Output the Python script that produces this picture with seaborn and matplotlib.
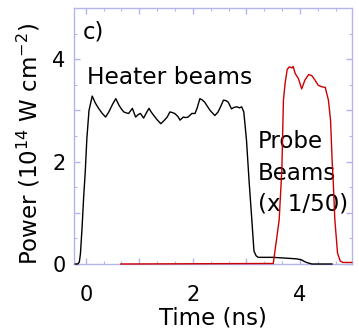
import numpy as np
import pandas as pd
import matplotlib
matplotlib.use("Agg")
import matplotlib.pyplot as plt
import seaborn as sns
from matplotlib.ticker import FixedLocator, FixedFormatter

# ---- data ----
heater_t = [-0.2, -0.15, -0.12, -0.10, -0.07, -0.04, -0.01, 0.02, 0.06, 0.12, 0.18, 0.24,
            0.30, 0.37, 0.43, 0.50, 0.56, 0.62, 0.67, 0.71, 0.76, 0.80, 0.87, 0.93, 0.98,
            1.02, 1.08, 1.13, 1.18, 1.22, 1.27, 1.33, 1.40, 1.46, 1.52, 1.57, 1.61, 1.66,
            1.72, 1.76, 1.82, 1.86, 1.91, 1.98, 2.04, 2.08, 2.13, 2.18, 2.22, 2.27, 2.32,
            2.41, 2.47, 2.52, 2.57, 2.62, 2.66, 2.72, 2.77, 2.82, 2.87, 2.91, 2.95, 3.00,
            3.05, 3.10, 3.14, 3.18, 3.22, 3.35, 3.50, 3.65, 3.80, 3.94, 4.03, 4.08, 4.12,
            4.22, 4.40, 4.60]
heater_p = [0.0, 0.0, 0.04, 0.2, 0.7, 1.3, 1.8, 2.45, 3.0, 3.28, 3.14, 3.04,
            2.95, 2.87, 2.97, 3.12, 3.23, 3.10, 3.02, 2.97, 2.95, 2.94, 3.04, 2.87, 2.92,
            2.94, 2.85, 2.95, 3.04, 2.97, 2.90, 2.82, 2.74, 2.80, 2.87, 2.97, 2.96, 2.94,
            2.88, 2.81, 2.87, 2.86, 2.87, 2.94, 2.94, 3.05, 3.23, 3.20, 3.16, 3.08, 3.00,
            2.90, 2.97, 3.08, 3.20, 3.19, 3.16, 3.03, 3.06, 3.07, 3.05, 3.07, 2.97, 2.42,
            1.60, 0.86, 0.25, 0.16, 0.13, 0.13, 0.13, 0.12, 0.11, 0.10, 0.08, 0.05, 0.03,
            0.0, 0.0, 0.0]

probe_t = [0.65, 3.50, 3.56, 3.61, 3.66, 3.69, 3.72, 3.76, 3.80, 3.85, 3.87, 3.91, 3.97,
           4.03, 4.09, 4.16, 4.22, 4.28, 4.34, 4.41, 4.47, 4.53, 4.57, 4.60, 4.62, 4.65,
           4.70, 4.75, 4.80, 4.97]
probe_p = [0.0, 0.01, 0.47, 0.86, 1.83, 3.2, 3.52, 3.80, 3.85, 3.83, 3.86, 3.72, 3.62,
           3.42, 3.59, 3.70, 3.68, 3.59, 3.49, 3.46, 3.45, 3.20, 2.8, 2.0, 1.6, 0.86,
           0.21, 0.06, 0.03, 0.03]

x_major = [0, 1, 2, 3, 4]
x_labels = ["0", "", "2", "", "4"]
y_major = [0, 1, 2, 3, 4]
y_labels = ["0", "", "2", "", "4"]

heater = pd.DataFrame({"t": heater_t, "p": heater_p})
probe = pd.DataFrame({"t": probe_t, "p": probe_p})

sns.set_style("ticks")
plt.rcParams["font.family"] = ["DejaVu Sans"]
plt.rcParams["text.color"] = "black"
plt.rcParams["axes.labelcolor"] = "black"

spine_col = "#b4b4ee"

fig = plt.figure(figsize=(3.59, 3.36), dpi=100)
ax = fig.add_axes([74/359, 72/336, 278/359, 256/336])

sns.lineplot(data=heater, x="t", y="p", ax=ax, color="black", lw=1.0,
             sort=False, estimator=None, clip_on=False, zorder=3)
sns.lineplot(data=probe, x="t", y="p", ax=ax, color="#cc0000", lw=1.0,
             sort=False, estimator=None, clip_on=False, zorder=4)

ax.set_xlim(-0.22, 4.97)
ax.set_ylim(0, 5)

ax.xaxis.set_major_locator(FixedLocator(x_major))
ax.xaxis.set_major_formatter(FixedFormatter(x_labels))
ax.yaxis.set_major_locator(FixedLocator(y_major))
ax.yaxis.set_major_formatter(FixedFormatter(y_labels))
ax.set_xticks(np.arange(-0.0, 5.0, 1/3), minor=True)
ax.set_yticks(np.arange(0, 5.0, 0.5), minor=True)

for s in ax.spines.values():
    s.set_color(spine_col)
    s.set_linewidth(1.0)
    s.set_visible(True)

ax.tick_params(which="both", direction="in", top=True, right=True,
               color=spine_col, labelcolor="black")
ax.tick_params(which="major", length=4, width=1.0, labelsize=15)
ax.tick_params(which="minor", length=2, width=0.8)
ax.tick_params(axis="x", which="major", pad=15)
ax.tick_params(axis="y", which="major", pad=6)

ax.set_xlabel("Time (ns)", fontsize=16.5, labelpad=1, color="black")
ax.set_ylabel("Power (10$^{14}$ W cm$^{-2}$)", fontsize=16.5, color="black")
ax.yaxis.set_label_coords(-0.115, 0.47)

ax.text(-0.056, 4.40, "c)", fontsize=16.5, va="baseline", ha="left", color="black")
ax.text(0.02, 3.52, "Heater beams", fontsize=16.8, va="baseline", ha="left", color="black")
ax.text(3.21, 2.26, "Probe", fontsize=16.5, va="baseline", ha="left", color="black")
ax.text(3.21, 1.64, "Beams", fontsize=16.5, va="baseline", ha="left", color="black")
ax.text(3.21, 1.05, "(x 1/50)", fontsize=16.5, va="baseline", ha="left", color="black")

fig.savefig("out.png", dpi=100)
